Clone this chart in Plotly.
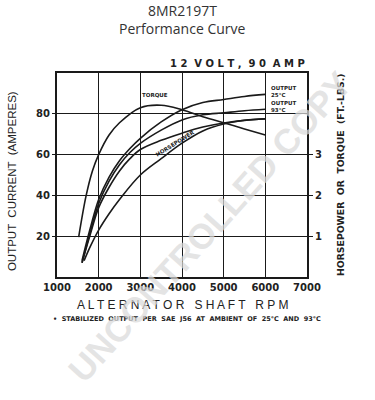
import plotly.graph_objects as go

# ---- data ----
rpm_out = [1600, 1800, 2000, 2250, 2500, 2750, 3000, 3500, 4000, 4500, 5000, 5500, 6000]
output_25c = [8, 24, 38, 49, 57, 63, 68, 76, 82, 85.5, 87, 88.5, 89.5]
output_93c = [7, 22, 36, 47, 55, 61, 65.5, 72, 77, 79.5, 80.5, 81.5, 82.2]
output_mid = [7, 21, 34, 44, 52, 58, 62.5, 67, 70.5, 73.5, 75.5, 76.8, 77.5]

rpm_torque = [1520, 1700, 1850, 2000, 2250, 2500, 3000, 3500, 4000, 4500, 5000, 5500, 6000]
torque_ftlb = [0.98, 2.0, 2.6, 3.0, 3.48, 3.78, 4.15, 4.21, 4.1, 3.93, 3.78, 3.63, 3.48]

rpm_hp = [1650, 1800, 2000, 2250, 2500, 3000, 3500, 4000, 4500, 5000, 5500, 6000]
horsepower = [0.4, 0.75, 1.15, 1.55, 1.9, 2.5, 2.9, 3.28, 3.58, 3.75, 3.84, 3.88]

x_ticks = [1000, 2000, 3000, 4000, 5000, 6000, 7000]
y_ticks = [20, 40, 60, 80]
y2_ticks = [1, 2, 3]

line_style = dict(color="#1a1a1a", width=1.6, shape="spline")
fig = go.Figure()
fig.add_trace(go.Scatter(x=rpm_out, y=output_25c, mode="lines", line=line_style))
fig.add_trace(go.Scatter(x=rpm_out, y=output_93c, mode="lines", line=line_style))
fig.add_trace(go.Scatter(x=rpm_out, y=output_mid, mode="lines", line=line_style))
fig.add_trace(go.Scatter(x=rpm_torque, y=torque_ftlb, mode="lines", line=line_style, yaxis="y2"))
fig.add_trace(go.Scatter(x=rpm_hp, y=horsepower, mode="lines", line=line_style, yaxis="y2"))

tickfont = dict(family="DejaVu Sans", size=10, color="#222")
fig.update_layout(
    width=375, height=400,
    margin=dict(l=57, r=68, t=73, b=123),
    paper_bgcolor="white", plot_bgcolor="white",
    showlegend=False,
    xaxis=dict(range=[1000, 7000], tickvals=x_ticks, ticktext=[f"<b>{v}</b>" for v in x_ticks],
               showgrid=True, gridcolor="#1a1a1a", gridwidth=1.4,
               showline=True, linecolor="#1a1a1a", linewidth=2, mirror=True,
               ticks="", tickfont=tickfont, zeroline=False),
    yaxis=dict(range=[0, 100], tickvals=y_ticks, ticktext=[f"<b>{v}</b>" for v in y_ticks],
               showgrid=True, gridcolor="#1a1a1a", gridwidth=1.4,
               showline=True, linecolor="#1a1a1a", linewidth=2,
               ticks="outside", ticklen=3, tickcolor="#1a1a1a", tickfont=tickfont, zeroline=False),
    yaxis2=dict(range=[0, 5], tickvals=y2_ticks, ticktext=[f"<b>{v}</b>" for v in y2_ticks],
                overlaying="y", side="right", showgrid=False,
                showline=True, linecolor="#1a1a1a", linewidth=2,
                ticks="outside", ticklen=4, tickcolor="#1a1a1a", tickfont=tickfont, zeroline=False),
)


def note(text, x, y, font, xref="paper", yref="paper", xanchor="center", yanchor="middle", **kw):
    fig.add_annotation(text=text, x=x, y=y, xref=xref, yref=yref, xanchor=xanchor,
                       yanchor=yanchor, showarrow=False, font=font, **kw)


title_font = dict(family="Open Sans", size=14, color="#333")
note("8MR2197T", 0.5, 1.0, title_font, yshift=63)
note("Performance Curve", 0.5, 1.0, title_font, yshift=45)
note("<b>1 2  V O L T ,  9 0  A M P</b>", 1.0, 1.0, dict(family="DejaVu Sans", size=10, color="#222"),
     xanchor="right", yanchor="bottom", yshift=2)
note("OUTPUT  CURRENT  (AMPERES)", 0, 0.47, dict(family="Liberation Sans", size=11.5, color="#222"),
     textangle=-90, xshift=-45)
note("<b>HORSEPOWER  OR  TORQUE  (FT.-LBS.)</b>", 1, 0.5, dict(family="DejaVu Sans", size=9.3, color="#222"),
     textangle=-90, xshift=33)
note("A L T E R N A T O R   S H A F T   R P M", 0.5, 0, dict(family="Liberation Sans", size=12, color="#222"),
     yshift=-28)
note("<b>•  STABILIZED  OUTPUT  PER  SAE  J56  AT  AMBIENT  OF  25°C  AND  93°C</b>", 0.52, 0,
     dict(family="DejaVu Sans", size=6.5, color="#222"), yshift=-42)

small = dict(family="DejaVu Sans", size=5.5, color="#222")
note("<b>TORQUE</b>", 3350, 89, small, xref="x", yref="y")
note("<b>HORSEPOWER</b>", 3850, 65.5, small, xref="x", yref="y", textangle=-32)
note("<b>OUTPUT<br>25°C</b>", 6080, 91, small, xref="x", yref="y", xanchor="left", align="left")
note("<b>OUTPUT<br>93°C</b>", 6080, 83.5, small, xref="x", yref="y", xanchor="left", align="left")

# watermark
note("<b>UNCONTROLLED COPY</b>", 0.61, 0.25,
     dict(family="Liberation Sans", size=35, color="rgba(218,218,218,0.72)"), textangle=-48)

fig.write_html("out.html")
